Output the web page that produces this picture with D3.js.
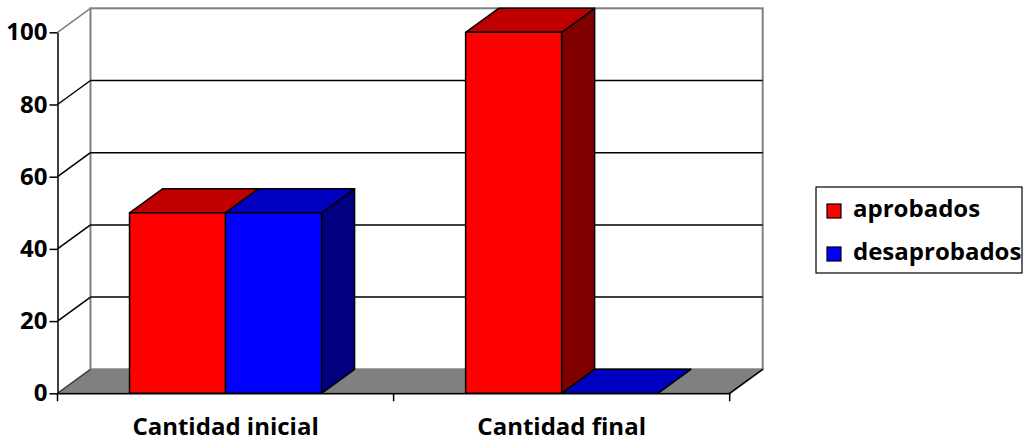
<!DOCTYPE html>
<html lang="es">
<head>
<meta charset="UTF-8">
<title>Cantidad inicial / final</title>
<script src="https://cdn.jsdelivr.net/npm/d3@7/dist/d3.min.js"></script>
<style>
  body { margin: 0; background: #fff; }
  svg { display: block; font-family: "Open Sans", sans-serif; font-weight: bold; }
</style>
</head>
<body>
<svg width="1026" height="441"></svg>
<script>
    const categories = ["Cantidad inicial", "Cantidad final"];
    const series = ["aprobados", "desaprobados"];
    const aprobados = [50, 100];
    const desaprobados = [50, 0];
    const yTicks = [0, 20, 40, 60, 80, 100];

    const colors = {
        aprobados: {front: "#ff0000", top: "#c00000", side: "#800000"},
        desaprobados: {front: "#0000ff", top: "#0000c0", side: "#000080"}
    };

    const svg = d3.select("svg");
    const pLeft = 57.5, pRight = 729.7, pBottom = 393.3, pTop = 32.3;
    const dx = 33, dy = -24;   // depth of the 3d box
    const fontSize = 24;

    const y = d3.scaleLinear().domain([0, 100]).range([pBottom, pTop]);
    const x = d3.scaleBand().domain(categories).range([pLeft, pRight])
        .paddingInner(1.5 / 3.5).paddingOuter(0.75 / 3.5);
    const xs = d3.scaleBand().domain(series).range([0, x.bandwidth()]);

    const values = {aprobados, desaprobados};
    const poly = pts => "M" + pts.map(p => p.join(",")).join("L") + "Z";

    // floor
    svg.append("path")
        .attr("d", poly([[pLeft, pBottom], [pRight, pBottom], [pRight + dx, pBottom + dy], [pLeft + dx, pBottom + dy]]))
        .attr("fill", "#808080").attr("stroke", "#404040").attr("stroke-width", 1.2);

    // back wall
    svg.append("rect")
        .attr("x", pLeft + dx).attr("y", pTop + dy)
        .attr("width", pRight - pLeft).attr("height", pBottom - pTop)
        .attr("fill", "#fff").attr("stroke", "#808080").attr("stroke-width", 2);

    // gridlines on back wall and side wall
    const grid = svg.append("g");
    yTicks.filter(t => t > 0).forEach(t => {
        const c = t === 100 ? "#808080" : "#000";
        grid.append("line")
            .attr("x1", pLeft).attr("y1", y(t)).attr("x2", pLeft + dx).attr("y2", y(t) + dy)
            .attr("stroke", c).attr("stroke-width", 1.5);
        if (t < 100) grid.append("line")
            .attr("x1", pLeft + dx).attr("y1", y(t) + dy).attr("x2", pRight + dx).attr("y2", y(t) + dy)
            .attr("stroke", "#000").attr("stroke-width", 1.5);
    });
    grid.append("line")
        .attr("x1", pLeft).attr("y1", pBottom).attr("x2", pLeft + dx).attr("y2", pBottom + dy)
        .attr("stroke", "#404040").attr("stroke-width", 1.2);
    grid.append("line")
        .attr("x1", pRight).attr("y1", pBottom).attr("x2", pRight + dx).attr("y2", pBottom + dy)
        .attr("stroke", "#000").attr("stroke-width", 1.5);

    // bars
    const bars = svg.append("g").attr("stroke", "#000").attr("stroke-width", 1.5)
        .attr("stroke-linejoin", "round");
    categories.forEach((cat, i) => {
        series.forEach(s => {
            const v = values[s][i];
            const x0 = x(cat) + xs(s), x1 = x0 + xs.bandwidth();
            const yt = y(v), yb = y(0);
            const col = colors[s];
            bars.append("path").attr("fill", col.side)
                .attr("d", poly([[x1, yt], [x1 + dx, yt + dy], [x1 + dx, yb + dy], [x1, yb]]));
            bars.append("path").attr("fill", col.top)
                .attr("d", poly([[x0, yt], [x0 + dx, yt + dy], [x1 + dx, yt + dy], [x1, yt]]));
            if (v > 0) bars.append("rect").attr("fill", col.front)
                .attr("x", x0).attr("y", yt).attr("width", x1 - x0).attr("height", yb - yt);
        });
    });

    // y axis
    const yAxis = svg.append("g")
        .attr("transform", `translate(${pLeft},0)`)
        .call(d3.axisLeft(y).tickValues(yTicks).tickSize(8).tickSizeOuter(0).tickPadding(2));
    yAxis.selectAll("line, path").attr("stroke", "#000").attr("stroke-width", 1.5);
    yAxis.selectAll("text").attr("font-size", fontSize).attr("font-family", "'Open Sans', sans-serif")
        .attr("font-weight", "bold").attr("fill", "#000");

    // x axis
    const xAxis = svg.append("g")
        .attr("transform", `translate(0,${pBottom})`)
        .call(d3.axisBottom(x).tickSize(0).tickPadding(25));
    xAxis.select(".domain").attr("stroke", "#000").attr("stroke-width", 1.5);
    xAxis.selectAll("text").attr("font-size", fontSize).attr("font-family", "'Open Sans', sans-serif")
        .attr("font-weight", "bold").attr("fill", "#000");
    const mid = (x(categories[0]) + x.bandwidth() + x(categories[1])) / 2;
    [pLeft, mid, pRight].forEach(b => xAxis.append("line")
        .attr("x1", b).attr("x2", b).attr("y1", 0).attr("y2", 8)
        .attr("stroke", "#000").attr("stroke-width", 1.5));

    // legend
    const lg = svg.append("g").attr("transform", "translate(816,187)");
    lg.append("rect").attr("width", 206).attr("height", 86)
        .attr("fill", "#fff").attr("stroke", "#000").attr("stroke-width", 1.2);
    series.forEach((s, i) => {
        const row = lg.append("g").attr("transform", `translate(0,${17 + i * 43})`);
        row.append("rect").attr("x", 11).attr("y", 0).attr("width", 14).attr("height", 14)
            .attr("fill", colors[s].front).attr("stroke", "#000").attr("stroke-width", 1.2);
        row.append("text").attr("x", 37).attr("y", 13)
            .attr("font-size", fontSize).attr("fill", "#000").text(s);
    });
</script>
</body>
</html>
